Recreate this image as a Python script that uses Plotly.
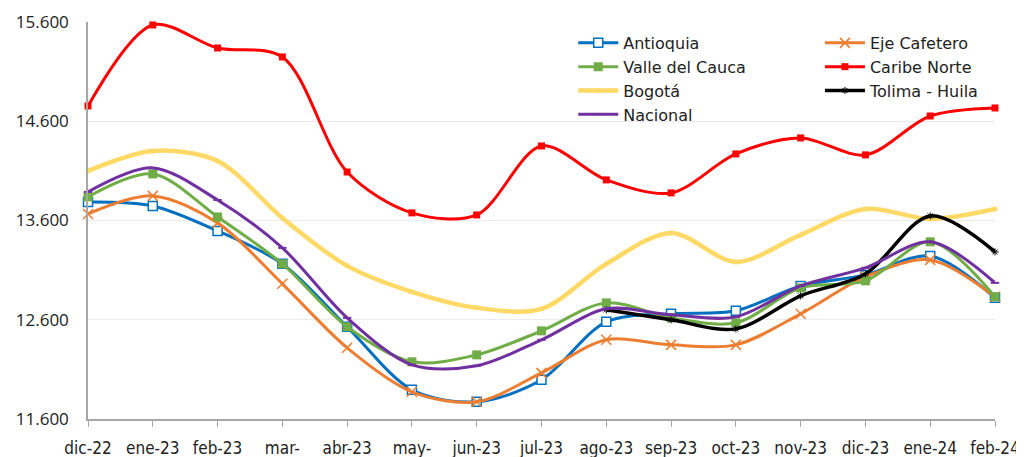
import plotly.graph_objects as go

meses = ['dic-22', 'ene-23', 'feb-23', 'mar-', 'abr-23', 'may-', 'jun-23', 'jul-23',
         'ago-23', 'sep-23', 'oct-23', 'nov-23', 'dic-23', 'ene-24', 'feb-24']

antioquia = [13787, 13747, 13495, 13163, 12529, 11894, 11773, 11995, 12579, 12660, 12690, 12941, 13052, 13243, 12821]
eje_cafetero = [13666, 13848, 13576, 12962, 12317, 11874, 11773, 12065, 12398, 12347, 12347, 12660, 13032, 13203, 12831]
valle = [13838, 14069, 13636, 13163, 12529, 12176, 12246, 12488, 12770, 12619, 12569, 12921, 12992, 13385, 12831]
caribe_norte = [14754, 15570, 15338, 15248, 14089, 13677, 13656, 14351, 14009, 13878, 14271, 14432, 14261, 14653, 14734]
bogota = [14100, 14301, 14200, 13626, 13143, 12881, 12720, 12710, 13163, 13475, 13183, 13455, 13717, 13616, 13717]
tolima_huila = [None, None, None, None, None, None, None, None, 12700, 12599, 12508, 12841, 13062, 13646, 13284]
nacional = [13888, 14130, 13807, 13324, 12619, 12146, 12136, 12398, 12710, 12650, 12629, 12941, 13123, 13385, 12972]

x = list(range(len(meses)))


def serie(nombre, valores, color, ancho, marker, leyenda):
    return go.Scatter(x=x, y=valores, name=nombre, mode='lines+markers',
                      line=dict(color=color, width=ancho, shape='spline', smoothing=0.9),
                      marker=marker, cliponaxis=False, legend=leyenda, connectgaps=False)


trazas = [
    serie('Antioquia', antioquia, '#0070C0', 3,
          dict(symbol='square', size=9, color='white', line=dict(color='#0070C0', width=1.5)), 'legend'),
    serie('Eje Cafetero', eje_cafetero, '#ED7D31', 3,
          dict(symbol='x-thin-open', size=10, color='#ED7D31', line=dict(color='#ED7D31', width=1.5)), 'legend2'),
    serie('Valle del Cauca', valle, '#70AD47', 3,
          dict(symbol='square', size=9, color='#70AD47'), 'legend'),
    serie('Caribe Norte', caribe_norte, '#FF0000', 3,
          dict(symbol='square', size=7, color='#FF0000'), 'legend2'),
    serie('Bogotá', bogota, '#FFD966', 4.5,
          dict(symbol='circle', size=5, color='#FFD966'), 'legend'),
    serie('Tolima - Huila', tolima_huila, '#000000', 3.5,
          dict(symbol='asterisk-open', size=6, color='#000000', line=dict(color='#404040', width=1)), 'legend2'),
    serie('Nacional', nacional, '#7030A0', 3,
          dict(symbol='line-ew-open', size=6, color='#7030A0', line=dict(color='#7030A0', width=2)), 'legend'),
]

fig = go.Figure(trazas)

leg_comun = dict(font=dict(family='DejaVu Sans', size=16, color='#222222'), bgcolor='rgba(0,0,0,0)',
                 tracegroupgap=0, itemwidth=40, xanchor='left', yanchor='top', y=0.99)

# la página deja 8 px de margen, por eso la figura es algo menor que la ventana
fig.update_layout(
    width=1016, height=449,
    margin=dict(l=80, r=29, t=14, b=38),
    plot_bgcolor='white', paper_bgcolor='white',
    separators=',.',
    showlegend=True,
    legend=dict(x=0.535, **leg_comun),
    legend2=dict(x=0.807, **leg_comun),
    xaxis=dict(range=[0, 14], tickvals=x, ticktext=meses, showgrid=False, automargin=False,
               showline=True, linecolor='#A6A6A6', linewidth=1.5,
               ticks='outside', tickcolor='#A6A6A6', ticklen=6,
               ticklabelstandoff=7,
               tickfont=dict(family='DejaVu Sans Condensed', size=17, color='#222222'),
               zeroline=False),
    yaxis=dict(range=[11600, 15600], tickvals=[11600, 12600, 13600, 14600, 15600], tickformat=',d',
               showgrid=True, gridcolor='#EBEBEB', gridwidth=1, automargin=False,
               showline=True, linecolor='#A6A6A6', linewidth=1.5,
               ticklabelstandoff=14,
               tickfont=dict(family='Open Sans', size=17, color='#222222'),
               zeroline=False),
)

fig.write_html('out.html')
